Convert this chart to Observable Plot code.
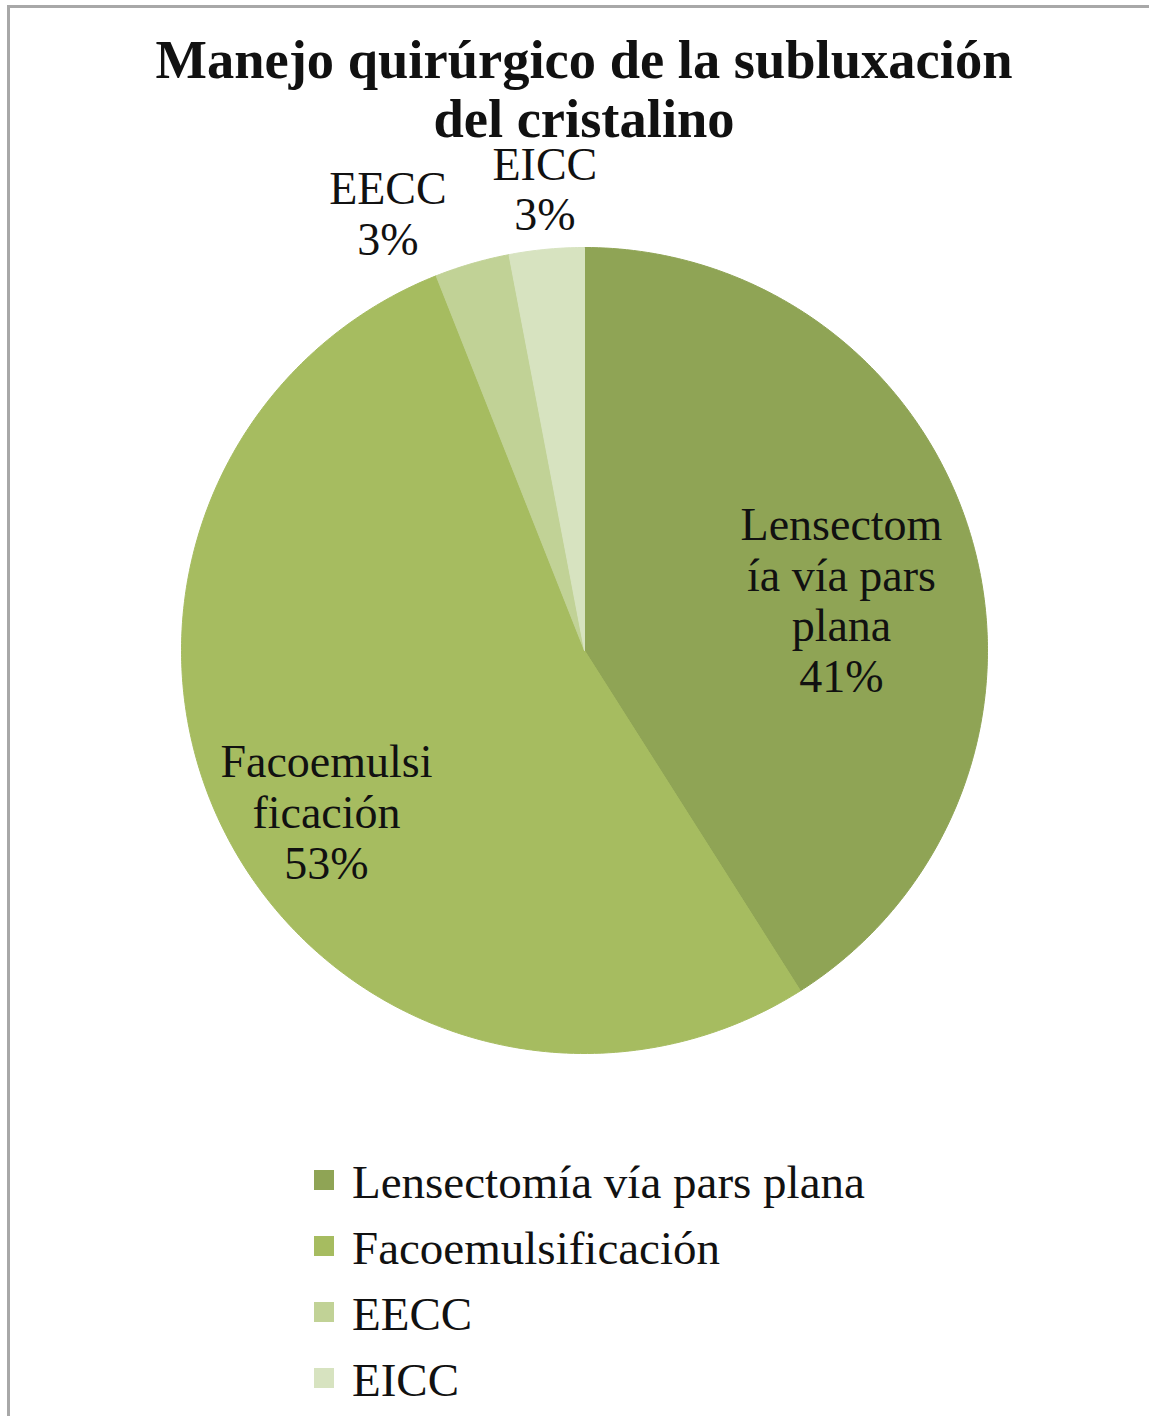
<!DOCTYPE html>
<html>
<head>
<meta charset="utf-8">
<script src="https://cdn.jsdelivr.net/npm/d3@7"></script>
<script src="https://cdn.jsdelivr.net/npm/@observablehq/plot@0.6"></script>
<style>
  html, body { margin: 0; padding: 0; background: #fff; }
  #page { position: relative; width: 1149px; height: 1416px; overflow: hidden; background: #fff;
          font-family: "Liberation Serif", "DejaVu Serif", serif; color: #111; }
  .bt { position: absolute; left: 7px; right: 0; top: 5px; height: 3px; background: #a8a8a8; }
  .bl { position: absolute; left: 7px; top: 5px; bottom: 0; width: 3px; background: #a8a8a8; }
  #title { position: absolute; left: 0; width: 1168px; top: 30px; text-align: center;
           font-weight: bold; font-size: 54.5px; line-height: 59px; z-index: 2; }
  #chart { position: absolute; left: 0; top: 100px; z-index: 1; }
  #legend { position: absolute; left: 314px; top: 1149px; }
  .row { display: flex; align-items: center; height: 66px; font-size: 47px; }
  .sw { width: 20px; height: 20px; margin-right: 18px; margin-top: -4px; }
</style>
</head>
<body>
<div id="page">
  <div class="bt"></div><div class="bl"></div>
  <div id="title">Manejo quirúrgico de la subluxación<br>del cristalino</div>
  <div id="chart"></div>
  <div id="legend"></div>
</div>
<script>
// ---- data ----
const categories = ["Lensectomía vía pars plana", "Facoemulsificación", "EECC", "EICC"];
const percents = [41, 53, 3, 3];
const sliceLabels = ["Lensectom\nía vía pars\nplana", "Facoemulsi\nficación", "EECC", "EICC"];
const colors = ["#8fa455", "#a6bc60", "#c1d296", "#d7e3c0"];

// ---- layout ----
const R = 403;
const labelPlacement = [
  {shift: 5, r: 0.65},
  {shift: -5, r: 0.755},
  {shift: -8, r: 1.19},
  {shift: 0.5, r: 1.15}
];

const arcs = d3.pie().sort(null).value(d => d)(percents);
const rad = Math.PI / 180;

const slicePts = [];
arcs.forEach((a, i) => {
  const name = categories[i];
  slicePts.push({name, x: 0, y: 0});
  const n = Math.max(2, Math.ceil((a.endAngle - a.startAngle) / (0.5 * rad)));
  for (let k = 0; k <= n; k++) {
    const t = a.startAngle + (a.endAngle - a.startAngle) * k / n;
    slicePts.push({name, x: R * Math.sin(t), y: R * Math.cos(t)});
  }
  slicePts.push({name, x: 0, y: 0});
});

const labels = arcs.map((a, i) => {
  const p = labelPlacement[i];
  const t = (a.startAngle + a.endAngle) / 2 + p.shift * rad;
  return {
    text: sliceLabels[i] + "\n" + percents[i] + "%",
    x: p.r * R * Math.sin(t),
    y: p.r * R * Math.cos(t)
  };
});

const chart = Plot.plot({
  width: 1149,
  height: 1035,
  margin: 0,
  x: {domain: [-584, 565], axis: null},
  y: {domain: [-485, 550], axis: null},
  color: {domain: categories, range: colors},
  style: {background: "transparent", fontFamily: "Liberation Serif, serif"},
  marks: [
    Plot.line(slicePts, {x: "x", y: "y", z: "name", fill: "name", stroke: "name", strokeWidth: 1, curve: "linear"}),
    Plot.text(labels, {x: "x", y: "y", text: "text", fontSize: 46, lineHeight: 1.1,
                       fill: "#111", textAnchor: "middle", lineAnchor: "middle"})
  ]
});
document.getElementById("chart").appendChild(chart);

const legend = document.getElementById("legend");
categories.forEach((c, i) => {
  const row = document.createElement("div");
  row.className = "row";
  const sw = document.createElement("div");
  sw.className = "sw";
  sw.style.background = colors[i];
  const tx = document.createElement("span");
  tx.textContent = c;
  row.appendChild(sw);
  row.appendChild(tx);
  legend.appendChild(row);
});
</script>
</body>
</html>
